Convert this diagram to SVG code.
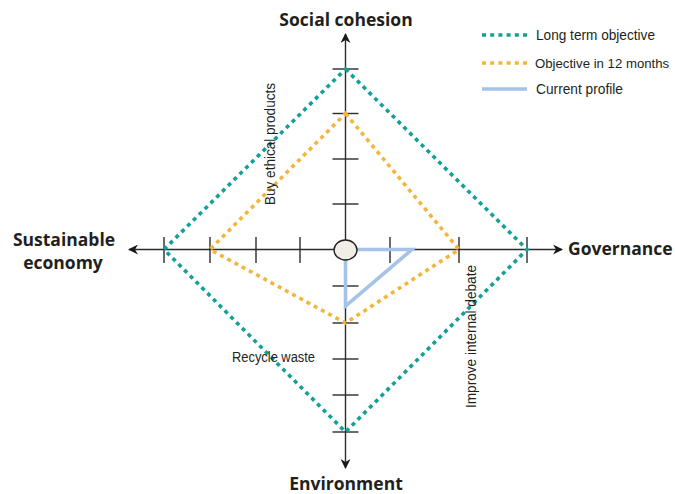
<svg xmlns="http://www.w3.org/2000/svg" width="675" height="494" viewBox="0 0 675 494">
<defs>
<style>
.axis{stroke:#2b2b2b;stroke-width:1.4;fill:none}
.tick{stroke:#2b2b2b;stroke-width:1.4}
.teal{stroke:#11a09a;stroke-width:3.6;fill:none;stroke-dasharray:4 4.2}
.orange{stroke:#f3b63c;stroke-width:3.6;fill:none;stroke-dasharray:4 4.2}
.blue{stroke:#a5c3e8;stroke-width:3.6;fill:none;stroke-linejoin:miter}
.big{font-family:"Open Sans","Liberation Sans",sans-serif;font-weight:bold;font-size:17.5px;fill:#231f20}
.lbl{font-family:"Liberation Sans",Arial,sans-serif;font-size:14px;fill:#231f20}
</style>
<marker id="arr" viewBox="0 0 10 10" refX="9" refY="5" markerWidth="10" markerHeight="10" markerUnits="userSpaceOnUse" orient="auto">
<path d="M0,0 L10,5 L0,10 L3,5 Z" fill="#1a1a1a"/>
</marker>
</defs>
<rect width="675" height="494" fill="#ffffff"/>
<g id="connectors">
<line class="axis" x1="345.5" y1="249.5" x2="129" y2="249.5" marker-end="url(#arr)"/>
<line class="axis" x1="345.5" y1="249.5" x2="562" y2="249.5" marker-end="url(#arr)"/>
<line class="axis" x1="345.5" y1="249.5" x2="345.5" y2="34" marker-end="url(#arr)"/>
<line class="axis" x1="345.5" y1="249.5" x2="345.5" y2="468" marker-end="url(#arr)"/>
<g id="ticks">
<line class="tick" x1="164" y1="237" x2="164" y2="263"/>
<line class="tick" x1="210" y1="237" x2="210" y2="263"/>
<line class="tick" x1="256" y1="237" x2="256" y2="263"/>
<line class="tick" x1="300" y1="237" x2="300" y2="263"/>
<line class="tick" x1="390" y1="237" x2="390" y2="263"/>
<line class="tick" x1="459" y1="237" x2="459" y2="263"/>
<line class="tick" x1="527" y1="237" x2="527" y2="263"/>
<line class="tick" x1="332.5" y1="69" x2="358.5" y2="69"/>
<line class="tick" x1="332.5" y1="113.5" x2="358.5" y2="113.5"/>
<line class="tick" x1="332.5" y1="159" x2="358.5" y2="159"/>
<line class="tick" x1="332.5" y1="204" x2="358.5" y2="204"/>
<line class="tick" x1="332.5" y1="286" x2="358.5" y2="286"/>
<line class="tick" x1="332.5" y1="323" x2="358.5" y2="323"/>
<line class="tick" x1="332.5" y1="359" x2="358.5" y2="359"/>
<line class="tick" x1="332.5" y1="395" x2="358.5" y2="395"/>
<line class="tick" x1="332.5" y1="432" x2="358.5" y2="432"/>
</g>
</g>
<g id="long-term">
<path class="teal" d="M345.5,69 L527,249.5 L345.5,432 L164,249.5 Z"/>
</g>
<g id="twelve-months">
<path class="orange" d="M345.5,113.5 L459,249.5 L345.5,323 L210,249.5 Z"/>
</g>
<g id="current">
<path class="blue" d="M356,249.5 L412,249.5 L345.5,306 L345.5,259"/>
</g>
<g id="center">
<ellipse cx="345.5" cy="250" rx="11.5" ry="10" fill="#f1efe5" stroke="#231f20" stroke-width="1.4"/>
</g>
<g id="axis-labels">
<text class="big" x="346" y="26" text-anchor="middle">Social cohesion</text>
<text class="big" x="346" y="490" text-anchor="middle">Environment</text>
<text class="big" x="568" y="255">Governance</text>
<text class="big" x="64" y="246" text-anchor="middle">Sustainable</text>
<text class="big" x="63" y="269" text-anchor="middle">economy</text>
</g>
<g id="annotations">
<text class="lbl" transform="translate(275,205) rotate(-90)" textLength="122" lengthAdjust="spacingAndGlyphs">Buy ethical products</text>
<text class="lbl" transform="translate(476,408) rotate(-90)" textLength="143" lengthAdjust="spacingAndGlyphs">Improve internal debate</text>
<text class="lbl" x="232" y="362" textLength="83" lengthAdjust="spacingAndGlyphs">Recycle waste</text>
</g>
<g id="legend">
<line class="teal" x1="482" y1="35" x2="527" y2="35"/>
<text class="lbl" x="536" y="40" textLength="119" lengthAdjust="spacingAndGlyphs">Long term objective</text>
<line class="orange" x1="482" y1="63" x2="527" y2="63"/>
<text class="lbl" x="535" y="68" style="font-size:13.2px">Objective in 12 months</text>
<line class="blue" x1="482" y1="89" x2="527" y2="89"/>
<text class="lbl" x="536" y="94" textLength="87" lengthAdjust="spacingAndGlyphs">Current profile</text>
</g>
</svg>
